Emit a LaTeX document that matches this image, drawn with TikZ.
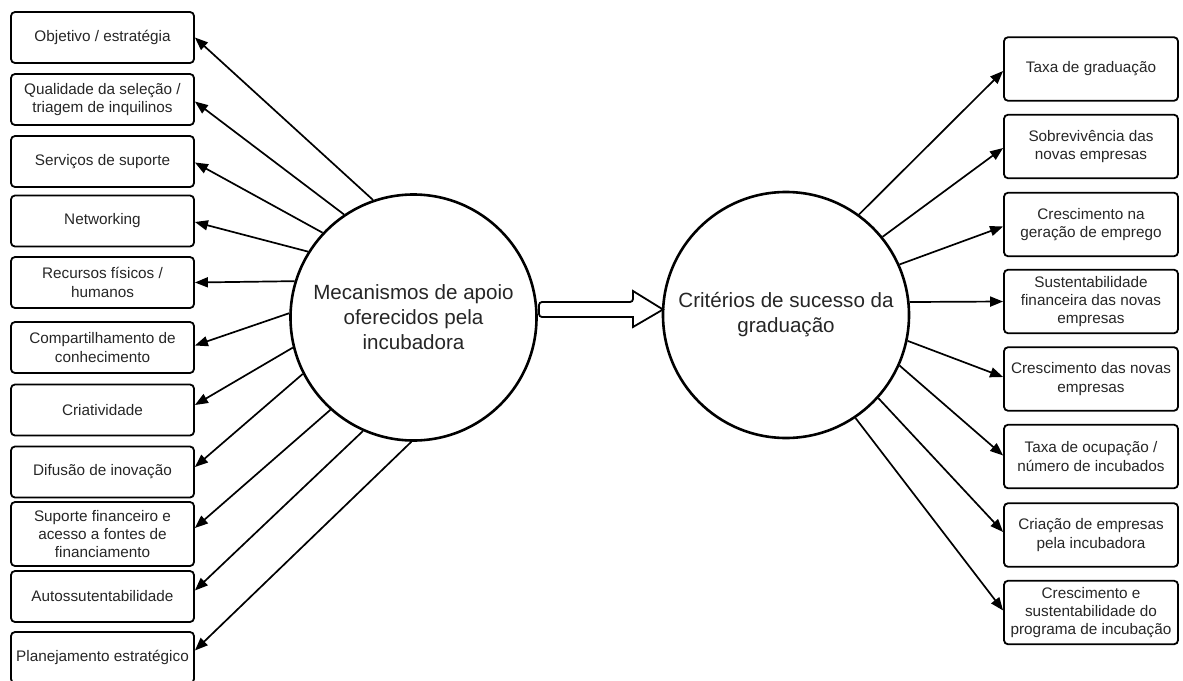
\documentclass[tikz,border=0pt]{standalone}
\usepackage{fontspec}
\setmainfont{Liberation Sans}
\usepackage{tikz}
\usetikzlibrary{positioning, arrows.meta, calc}

\begin{document}
\begin{tikzpicture}[
    x=1pt, y=-1pt,
    leftbox/.style={rectangle, rounded corners=4pt, draw=black, line width=1.8pt, minimum width=183pt, minimum height=51pt, align=center, inner sep=2pt, font=\fontsize{15.3}{18.3}\selectfont, text=black!85},
    rightbox/.style={leftbox, minimum width=174pt, minimum height=63.5pt},
    hub/.style={circle, draw=black, line width=2.6pt, minimum size=246pt, inner sep=0pt, align=center, font=\fontsize{20.6}{25}\selectfont, text=black!85},
    arrow/.style={-{Triangle[length=13pt,width=10pt]}, line width=1.7pt},
    fatarrow/.style={draw=black, line width=1.8pt}
]
\useasboundingbox (0,0) rectangle (1183,680);

% Two central circles
\node[hub] (mech) at (413.5,317.5) {Mecanismos de apoio\\oferecidos pela\\incubadora};
\node[hub] (crit) at (786,315) {Critérios de sucesso da\\graduação};

% Support mechanisms on the left
\node[leftbox] (left1) at (102.5,37.5) {Objetivo / estratégia};
\node[leftbox] (left2) at (102.5,99.5) {Qualidade da seleção /\\triagem de inquilinos};
\node[leftbox] (left3) at (102.5,161.5) {Serviços de suporte};
\node[leftbox] (left4) at (102.5,221) {Networking};
\node[leftbox] (left5) at (102.5,282.5) {Recursos físicos /\\humanos};
\node[leftbox] (left6) at (102.5,347.5) {Compartilhamento de\\conhecimento};
\node[leftbox] (left7) at (102.5,410) {Criatividade};
\node[leftbox] (left8) at (102.5,472) {Difusão de inovação};
\node[leftbox, minimum height=64pt] (left9) at (102.5,534) {Suporte financeiro e\\acesso a fontes de\\financiamento};
\node[leftbox] (left10) at (102.5,596.5) {Autossutentabilidade};
\node[leftbox] (left11) at (102.5,657.5) {Planejamento estratégico};

% Success criteria on the right
\node[rightbox] (right1) at (1091,69) {Taxa de graduação};
\node[rightbox] (right2) at (1091,146.5) {Sobrevivência das\\novas empresas};
\node[rightbox] (right3) at (1091,224.5) {Crescimento na\\geração de emprego};
\node[rightbox] (right4) at (1091,301.5) {Sustentabilidade\\financeira das novas\\empresas};
\node[rightbox] (right5) at (1091,379) {Crescimento das novas\\empresas};
\node[rightbox] (right6) at (1091,456.5) {Taxa de ocupação /\\número de incubados};
\node[rightbox] (right7) at (1091,535) {Criação de empresas\\pela incubadora};
\node[rightbox] (right8) at (1091,612.5) {Crescimento e\\sustentabilidade do\\programa de incubação};

% Arrows out of the circles
\foreach \i/\a/\d in {1/109.5/0, 2/124/-2, 3/137/-1, 4/148/-1, 5/163/0, 6/178/2, 7/194/5, 8/207.5/5, 9/228/6, 10/246/6, 11/269/7}{
  \draw[arrow] (mech.\a) -- ([yshift=\d pt]left\i.east);
}
\foreach \i/\a/\d in {1/54.8/-2, 2/39.8/-1.5, 3/24.5/-2, 4/6/0, 5/-12.8/2, 6/-24/1, 7/-42/3, 8/-56/2}{
  \draw[arrow] (crit.\a) -- ([yshift=\d pt]right\i.west);
}

% Block arrow between the circles
\coordinate (fatTail) at (539,309.5);
\coordinate (fatTip) at (663,309.5);
\draw[fatarrow] ($(fatTip)+(-30,-7.5)$) -- ($(fatTip)+(-30,-18.5)$) -- (fatTip) -- ($(fatTip)+(-30,17.5)$) -- ($(fatTip)+(-30,7.5)$)
  [rounded corners=3pt] -- ($(fatTail)+(0,7.5)$) -- ($(fatTail)+(0,-7.5)$) -- cycle;

\end{tikzpicture}
\end{document}
